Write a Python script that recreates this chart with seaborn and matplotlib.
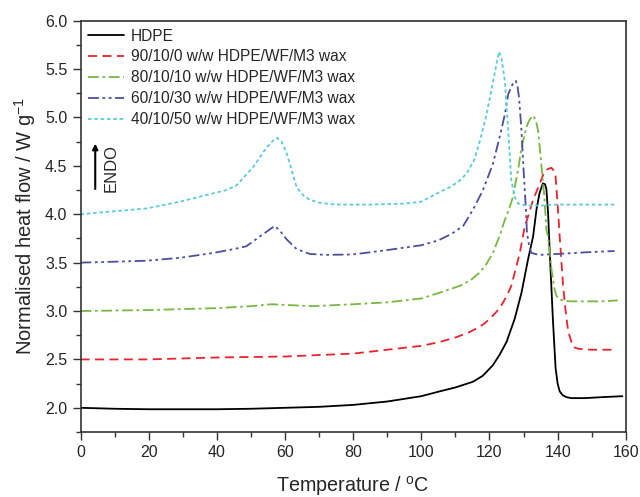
import numpy as np
import pandas as pd
import matplotlib
matplotlib.use("Agg")
import matplotlib.pyplot as plt
import seaborn as sns
from matplotlib.ticker import MultipleLocator, FormatStrFormatter

series_names = [
    "HDPE",
    "90/10/0 w/w HDPE/WF/M3 wax",
    "80/10/10 w/w HDPE/WF/M3 wax",
    "60/10/30 w/w HDPE/WF/M3 wax",
    "40/10/50 w/w HDPE/WF/M3 wax",
]

hdpe_t = [0, 10, 20, 30, 40, 50, 60, 70, 80, 90, 100, 105.4, 110, 115.2, 118, 121, 123, 125, 127.4, 129.4, 131.3, 132.8, 133.8, 134.7, 135.7, 136.3, 136.7, 137.2, 137.7, 138.6, 139.4, 140.0, 140.6, 141.5, 142.6, 144, 148, 153, 159]
hdpe_y = [2.0, 1.99, 1.985, 1.985, 1.985, 1.99, 2.0, 2.01, 2.03, 2.065, 2.12, 2.17, 2.21, 2.27, 2.33, 2.44, 2.55, 2.68, 2.92, 3.19, 3.53, 3.77, 4.05, 4.22, 4.32, 4.31, 4.26, 4.01, 3.60, 2.92, 2.41, 2.25, 2.17, 2.13, 2.11, 2.10, 2.10, 2.11, 2.12]

red_t = [0, 20, 40, 60, 80, 100, 105.4, 110.3, 114, 116.2, 118.5, 120.1, 122, 123.5, 125, 126.4, 128.9, 130.4, 131.0, 132.8, 134.8, 136.2, 137.3, 138.2, 138.9, 139.4, 140.1, 140.6, 141.6, 142.4, 143.1, 144.5, 146, 150, 156]
red_y = [2.5, 2.5, 2.52, 2.53, 2.56, 2.64, 2.68, 2.73, 2.78, 2.82, 2.87, 2.92, 2.99, 3.06, 3.15, 3.26, 3.60, 3.88, 3.94, 4.15, 4.32, 4.45, 4.47, 4.48, 4.45, 4.39, 4.05, 3.77, 3.26, 2.98, 2.79, 2.63, 2.61, 2.60, 2.60]

green_t = [0, 20, 40, 50, 56, 62, 68, 80, 90, 100, 105.4, 111.3, 114.5, 117.2, 119, 121, 123, 124.5, 125.8, 126.9, 128.4, 129.4, 130.8, 131.8, 132.8, 133.6, 134.3, 135.2, 136.1, 136.7, 137.2, 138.2, 139.0, 139.6, 140.5, 141.6, 143.6, 148, 153, 157.6]
green_y = [3.0, 3.01, 3.03, 3.05, 3.07, 3.06, 3.05, 3.07, 3.09, 3.13, 3.19, 3.26, 3.32, 3.40, 3.48, 3.60, 3.78, 3.94, 4.06, 4.18, 4.46, 4.69, 4.90, 4.98, 5.02, 4.97, 4.86, 4.52, 4.18, 3.84, 3.77, 3.43, 3.24, 3.16, 3.12, 3.11, 3.10, 3.10, 3.10, 3.11]

blue_t = [0, 10, 19.4, 29.2, 38.9, 45, 48.7, 52.6, 55, 57.0, 58.5, 60.5, 63.4, 67.3, 72, 80, 90, 100, 105, 109, 112.3, 115.2, 118.1, 121, 123, 124.5, 125.5, 126.7, 127.7, 128.2, 128.7, 129.4, 129.9, 130.6, 131.0, 131.6, 132.3, 134.5, 140, 145, 150, 156.7]
blue_y = [3.5, 3.51, 3.52, 3.55, 3.60, 3.64, 3.67, 3.77, 3.83, 3.88, 3.83, 3.74, 3.64, 3.59, 3.58, 3.585, 3.63, 3.68, 3.73, 3.80, 3.88, 4.05, 4.25, 4.52, 4.80, 5.03, 5.24, 5.34, 5.38, 5.33, 5.20, 4.86, 4.52, 4.11, 3.81, 3.68, 3.60, 3.58, 3.59, 3.60, 3.61, 3.62]

cyan_t = [0, 9.6, 19.4, 29.2, 37, 42.9, 45.8, 50.7, 54.6, 56.5, 57.7, 59, 60.5, 62, 63.4, 65.5, 67.3, 70, 75, 85, 95, 100, 105.4, 108.4, 111, 113.3, 115.5, 117.2, 118.8, 120.1, 121.5, 122.3, 122.8, 123.5, 124.5, 125.5, 126.4, 127.4, 128.4, 130.8, 135, 140, 150, 157.2]
cyan_y = [4.0, 4.03, 4.06, 4.13, 4.20, 4.25, 4.30, 4.49, 4.69, 4.76, 4.79, 4.75, 4.63, 4.45, 4.28, 4.19, 4.15, 4.12, 4.10, 4.10, 4.11, 4.13, 4.23, 4.28, 4.34, 4.42, 4.56, 4.76, 4.98, 5.20, 5.45, 5.60, 5.68, 5.62, 5.38, 4.86, 4.35, 4.18, 4.11, 4.09, 4.09, 4.10, 4.10, 4.10]

frames = []
for name, t, y in zip(series_names,
                      [hdpe_t, red_t, green_t, blue_t, cyan_t],
                      [hdpe_y, red_y, green_y, blue_y, cyan_y]):
    frames.append(pd.DataFrame({"Temperature": t, "Heat": y, "Sample": name}))
df = pd.concat(frames, ignore_index=True)

sns.set_style("ticks")
plt.rcParams['font.family'] = ['Liberation Sans', 'DejaVu Sans']

colors = ["#000000", "#e8242c", "#77b843", "#4a4f9e", "#5ccbdc"]
dashes = ["", (5, 3), (6, 2, 1.5, 2), (6, 2, 1.5, 2, 1.5, 2), (2, 1.5)]

fig = plt.figure(figsize=(6.4, 4.97), dpi=100)
ax = fig.add_axes([0.1258, 0.1308, 0.852, 0.8275])

sns.lineplot(data=df, x="Temperature", y="Heat", hue="Sample", style="Sample",
             palette=colors, dashes=dashes, hue_order=series_names,
             style_order=series_names, sort=False, estimator=None,
             linewidth=1.3, ax=ax)

ax.set_xlim(0, 160)
ax.set_ylim(1.75, 6.0)
ax.xaxis.set_major_locator(MultipleLocator(20))
ax.xaxis.set_minor_locator(MultipleLocator(10))
ax.yaxis.set_major_locator(MultipleLocator(0.5))
ax.yaxis.set_minor_locator(MultipleLocator(0.25))
ax.yaxis.set_major_formatter(FormatStrFormatter('%.1f'))
ax.tick_params(axis='both', which='major', length=6, width=1, labelsize=11.5, direction='out', color='#333333')
ax.tick_params(axis='both', which='minor', length=3.5, width=1, direction='out', color='#333333')
for s in ax.spines.values():
    s.set_linewidth(1.2)
    s.set_color('#333333')

ax.set_xlabel("Temperature / $^\\mathregular{o}$C", fontsize=14.2, labelpad=10)
ax.set_ylabel("Normalised heat flow / W g$^{\\mathregular{-1}}$", fontsize=14.5, labelpad=5)

leg = ax.legend(loc='upper left', frameon=False, fontsize=11.2, handlelength=2.3,
                labelspacing=0.38, borderaxespad=0.2, handletextpad=0.45,
                borderpad=0.3)

ax.annotate("", xy=(0.027, 0.708), xytext=(0.027, 0.584), xycoords='axes fraction',
            arrowprops=dict(arrowstyle='-|>', color='black', lw=1.5, mutation_scale=8))
ax.text(0.057, 0.642, "ENDO", transform=ax.transAxes, rotation=90,
        ha='center', va='center', fontsize=12)

fig.savefig("out.png", dpi=100)
